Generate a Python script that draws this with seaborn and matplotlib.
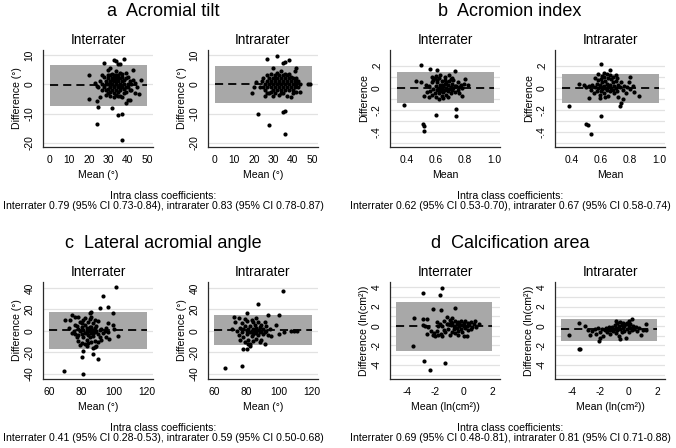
import matplotlib
matplotlib.use("Agg")
import matplotlib.pyplot as plt
import seaborn as sns

sns.set_style("white")
plt.rcParams["font.family"] = ["Liberation Sans", "DejaVu Sans"]
plt.rcParams["text.color"] = "black"
plt.rcParams["axes.labelcolor"] = "black"
plt.rcParams["xtick.color"] = "black"
plt.rcParams["ytick.color"] = "black"

# (mean, difference) pairs
tilt_inter = [(24, -13.7), (37, -19), (35, -10.5), (37, -10), (32, -8.2), (25, -7.8), (20, -5), (24, -5.8),
              (20, 3.2), (28, 7.2), (33, 8.3), (34, 7.8), (38, 8.6), (35, 7), (36, 6.8), (47, 1.3), (46, -3.3),
              (44, -3), (43, 5), (39, -6.3), (40, -5.5), (41, -5.2), (26, -4.4), (27, 3), (30, 5), (31, 5.5),
              (34, 4.5), (36, 4), (39, 4),
              (28, -1), (29, 1), (29, -2), (30, 0), (30, 2), (30, -3), (31, 1), (31, -1), (31, 3), (31, -4),
              (32, 0), (32, 2), (32, -2), (32, 3.5), (33, 1), (33, -1), (33, 3), (33, -3), (34, 0), (34, 2),
              (34, -2), (35, 1), (35, -1), (35, 3), (35, -4), (36, 0), (36, 2), (36, -2), (37, 1), (37, -1),
              (37, 3.5), (38, 0), (38, -3), (39, 2), (39, -1), (40, 0), (40, 2.5), (41, -2), (41, 1), (42, 0),
              (43, 1.5), (27, 0), (27, -2), (26, 1), (25, -1), (28, 2.5), (29, -3.5), (30, -1.5), (31, 0.5),
              (32, 1.5), (33, -0.5), (34, 1), (35, 2), (36, -1), (37, 2.5), (38, 1.5), (39, -2.5), (40, -1),
              (42, -2), (44, 0.5), (45, -1), (23, 0.5), (24, -0.5), (33, -4.5), (34, -3.5), (36, -4), (37, -4.5),
              (29, 0), (31, -2.5), (33, 2), (35, -2.5), (38, -1.5), (30, 3), (34, 3)]
tilt_intra = [(22, -10.2), (28, -13.8), (36, -17), (35, -9.3), (36, -9), (27, 8.5), (32, 9.7), (38, 8.3),
              (35, 7.4), (36, 7.6), (19, -3), (20, -1), (21, 0.8), (48, 0), (49, 0), (42, 5.5), (44, -2.5),
              (30, 5.5), (34, 4.5), (41, 4.5), (26, -4), (39, -4.5),
              (24, 1), (25, -1), (25, 2), (26, 0), (26, -2), (27, 1), (27, -1), (27, 3), (28, 0), (28, 2),
              (28, -3), (29, 1), (29, -1), (29, 3.5), (30, 0), (30, 2), (30, -2), (30, -4), (31, 1), (31, -1),
              (31, 3), (31, -3), (32, 0), (32, 2), (32, -2), (32, 4), (33, 1), (33, -1), (33, 3), (33, -3.5),
              (34, 0), (34, 2), (34, -2), (35, 1), (35, -1), (35, 3), (35, -3), (36, 0), (36, 2), (36, -2),
              (37, 1), (37, -1), (37, 3), (37, -4), (38, 0), (38, 2), (38, -2), (39, 1), (39, -1), (40, 0),
              (40, 2), (40, -2), (41, 1), (41, -1), (42, 0), (42, 2), (43, 1), (43, -1), (44, 0), (23, -1),
              (29, -2.5), (31, 2), (33, 0.5), (34, -3), (36, 3.5), (38, 3.5), (39, 2.5), (40, -3), (42, -2.5),
              (27, -3)]

idx_inter = [(0.38, -0.15), (0.50, 0.21), (0.51, -0.33), (0.515, -0.345), (0.515, -0.39), (0.60, -0.245),
             (0.74, -0.19), (0.74, -0.25), (0.56, 0.17), (0.61, 0.16), (0.73, 0.155), (0.46, 0.065),
             (0.50, 0.05), (0.55, -0.085), (0.82, 0.03), (0.52, -0.07), (0.78, -0.07), (0.80, 0.08),
             (0.57, 0.1), (0.69, 0.12),
             (0.55, 0.02), (0.56, -0.03), (0.57, 0.05), (0.58, -0.01), (0.58, 0.07), (0.59, -0.05), (0.60, 0.02),
             (0.60, -0.08), (0.61, 0.05), (0.61, -0.02), (0.62, 0.0), (0.62, 0.09), (0.62, -0.05), (0.63, 0.03),
             (0.63, -0.03), (0.64, 0.06), (0.64, -0.01), (0.64, -0.07), (0.65, 0.02), (0.65, -0.04), (0.66, 0.04),
             (0.66, 0.1), (0.66, -0.02), (0.67, 0.0), (0.67, -0.06), (0.68, 0.03), (0.68, -0.03), (0.69, 0.06),
             (0.69, -0.01), (0.70, 0.01), (0.70, -0.05), (0.71, 0.04), (0.71, -0.02), (0.72, 0.07), (0.72, 0.0),
             (0.73, -0.04), (0.74, 0.02), (0.75, 0.05), (0.75, -0.02), (0.76, 0.01), (0.77, 0.03), (0.78, 0.0),
             (0.79, 0.04), (0.59, 0.09), (0.60, 0.11), (0.63, 0.12), (0.65, -0.09), (0.68, -0.08), (0.71, 0.09),
             (0.53, 0.03), (0.54, -0.04), (0.57, -0.06), (0.61, 0.07), (0.64, 0.03), (0.67, 0.05), (0.70, 0.08),
             (0.73, 0.02), (0.76, -0.05), (0.62, -0.1), (0.66, 0.07)]
idx_intra = [(0.38, -0.165), (0.50, -0.33), (0.51, -0.34), (0.53, -0.42), (0.60, -0.25), (0.60, 0.22),
             (0.66, 0.16), (0.73, -0.165), (0.74, -0.14), (0.86, -0.075), (0.80, 0.1), (0.45, 0.04),
             (0.48, 0.03), (0.58, 0.13), (0.62, 0.14), (0.64, 0.13), (0.70, 0.12), (0.52, -0.09), (0.83, -0.04),
             (0.82, 0.02),
             (0.50, 0.01), (0.52, 0.02), (0.53, -0.02), (0.54, 0.03), (0.55, -0.05), (0.56, 0.01), (0.57, 0.04),
             (0.57, -0.03), (0.58, 0.0), (0.58, 0.07), (0.59, -0.06), (0.59, 0.03), (0.60, 0.01), (0.60, -0.03),
             (0.60, 0.08), (0.61, 0.05), (0.61, -0.01), (0.62, 0.02), (0.62, -0.05), (0.62, 0.1), (0.63, 0.0),
             (0.63, 0.06), (0.64, -0.02), (0.64, 0.04), (0.65, 0.01), (0.65, -0.07), (0.66, 0.03), (0.66, -0.03),
             (0.67, 0.08), (0.67, 0.0), (0.68, -0.02), (0.68, 0.05), (0.69, 0.02), (0.69, -0.05), (0.70, 0.0),
             (0.70, 0.06), (0.71, -0.03), (0.72, 0.03), (0.72, -0.08), (0.73, 0.01), (0.74, 0.05), (0.75, -0.02),
             (0.76, 0.02), (0.77, -0.05), (0.78, 0.01), (0.79, 0.05), (0.80, -0.01), (0.56, 0.09), (0.61, 0.11),
             (0.65, 0.09), (0.59, -0.09), (0.63, -0.08), (0.68, 0.1), (0.71, 0.09), (0.75, -0.1), (0.66, 0.12)]

lat_inter = [(69, -37), (81, -40), (80, -24), (81, -19), (87, -21), (90, -26), (87, -16), (88, -15), (101, 41),
             (93, 33), (96, 22), (91, 21), (99, 17), (86, 18), (96, 7), (99, 6), (102, -5), (95, -6), (73, 10),
             (74, 15), (70, 10), (72, 3), (76, 13), (78, 13), (85, 17), (97, -7), (100, 2), (83, -14), (89, -14),
             (75, 0), (76, -3), (77, 5), (77, -6), (78, 2), (78, -9), (79, 0), (79, 8), (80, -3), (80, 4),
             (80, -11), (81, 1), (81, -6), (81, 10), (82, -2), (82, 6), (82, -12), (83, 0), (83, 3), (83, -8),
             (84, -4), (84, 8), (84, 2), (85, 0), (85, -6), (85, 11), (86, -2), (86, 4), (86, -10), (87, 1),
             (87, 7), (87, -5), (88, -1), (88, 3), (88, -9), (89, 0), (89, 5), (90, -3), (90, 9), (91, 1),
             (91, -6), (92, 2), (93, -2), (94, 0), (95, 3), (96, -1), (74, -2), (76, 6), (78, -4), (79, -13),
             (82, 12), (84, -11), (86, 13), (88, 10), (90, -10), (92, -8), (80, 7), (83, -2), (85, 4), (87, -2)]
lat_intra = [(67, -34), (77, -33), (102, 37), (87, 25), (100, 15), (80, 17), (93, 15), (72, 13), (78, -17),
             (80, -17), (82, -14), (103, -1), (107, 0), (109, 0), (111, 0), (95, -5), (91, -12), (71, 2), (73, 8),
             (75, 12), (98, 6), (100, -3),
             (74, 0), (75, -4), (76, 3), (77, -1), (77, 7), (78, -6), (78, 2), (79, -10), (79, 5), (80, 0),
             (80, -3), (80, 9), (81, -8), (81, 2), (82, -1), (82, 5), (82, -12), (83, 0), (83, -5), (83, 10),
             (84, 2), (84, -3), (84, -9), (85, 0), (85, 6), (86, -2), (86, 3), (86, -7), (87, 1), (87, 8),
             (87, -4), (88, -1), (88, 4), (88, -10), (89, 0), (89, 6), (90, -3), (90, 2), (91, 8), (91, -1),
             (92, 0), (93, -4), (94, 2), (76, -8), (79, 11), (81, -12), (84, 8), (86, 12), (89, -8), (92, 5)]

calc_inter = [(-3.6, -2.1), (-2.8, -3.6), (-2.35, -4.5), (-1.3, -3.8), (-2.9, 3.4), (-1.7, 3.2), (-1.5, 3.9),
              (-1.6, 1.6), (-2.2, 1.7), (-0.6, 1.85), (-3.5, 0.8), (-2.9, 0.7), (-2.6, 0.7), (1.1, 0.2),
              (-2.9, 0.1), (-2.6, -0.8), (-2.3, -0.5),
              (-2.7, 0.0), (-2.5, -0.1), (-2.1, -0.7), (-2.0, -1.0), (-1.9, -0.5), (-1.9, 0.4), (-1.8, -0.9),
              (-1.7, 0.2), (-1.6, -0.8), (-1.5, 0.0), (-1.5, -1.0), (-1.4, 0.5), (-1.3, -0.6), (-1.2, 0.2),
              (-1.2, 0.9), (-1.1, -0.3), (-1.0, 0.6), (-1.0, -0.9), (-0.9, 0.1), (-0.9, 0.4), (-0.8, -0.6),
              (-0.8, 0.3), (-0.7, 0.0), (-0.7, -0.3), (-0.6, 0.5), (-0.6, -0.7), (-0.5, 0.2), (-0.5, -0.2),
              (-0.4, 0.4), (-0.4, -0.5), (-0.3, 0.0), (-0.3, 0.3), (-0.2, -0.3), (-0.2, 0.5), (-0.1, 0.1),
              (-0.1, -0.6), (0.0, 0.3), (0.0, -1.0), (0.1, -0.2), (0.1, 0.5), (0.2, -1.0), (0.2, 0.0),
              (0.3, 0.3), (0.3, -0.4), (0.4, 0.1), (0.5, -0.3), (0.5, 0.4), (0.6, -0.1), (0.7, 0.2), (0.8, 0.5),
              (0.9, -0.1), (-1.8, 0.0), (-1.4, -0.4), (-1.1, 0.2), (-0.8, 0.8), (-0.4, -0.9), (0.0, 0.0),
              (-2.2, -0.9)]
calc_intra = [(-4.2, -0.95), (-3.5, -2.35), (-3.45, -2.4), (-3.5, 0.35), (-3.1, 0.0), (-2.9, -0.4), (-2.7, -0.9),
              (-2.0, -1.2), (-2.1, -1.5), (-1.8, -1.0), (-2.6, -0.5), (-2.4, -0.3), (-2.3, -0.8), (-2.2, -0.2),
              (-2.0, -0.6), (-1.9, -0.3), (-1.7, -0.4), (-1.6, -0.2), (-1.5, -0.6), (-1.5, -0.3), (-1.4, -0.1),
              (-1.3, -0.4), (-1.3, -0.8), (-1.2, -0.2), (-1.1, -0.5), (-1.0, -0.3), (-1.0, 0.1), (-0.9, -0.7),
              (-0.9, -0.2), (-0.8, 0.3), (-0.8, -0.4), (-0.7, 0.0), (-0.7, -1.0), (-0.6, -0.3), (-0.6, 0.4),
              (-0.5, -0.6), (-0.5, 0.1), (-0.4, -0.2), (-0.4, 0.3), (-0.3, -0.5), (-0.3, 0.0), (-0.2, 0.2),
              (-0.2, -1.2), (-0.1, -0.3), (-0.1, 0.3), (0.0, 0.0), (0.0, -0.6), (0.1, 0.2), (0.1, -0.2),
              (0.2, 0.7), (0.2, -0.4), (0.3, 0.0), (0.4, -0.3), (0.5, -0.1), (0.6, -0.5), (0.7, -0.2),
              (0.9, -0.9), (1.0, -0.4), (1.2, 0.2), (1.2, -0.4), (-0.6, -1.3), (-0.9, 0.5), (-1.2, -0.1),
              (0.0, 0.5)]

# mean difference, lower and upper limits of agreement
loa_tilt_inter = (-0.4, -7.5, 6.7)
loa_tilt_intra = (0.0, -6.3, 6.3)
loa_idx_inter = (0.0, -0.14, 0.145)
loa_idx_intra = (0.0, -0.135, 0.13)
loa_lat_inter = (0.5, -16.5, 17.5)
loa_lat_intra = (0.5, -13.5, 14.5)
loa_calc_inter = (-0.05, -2.6, 2.5)
loa_calc_intra = (-0.35, -1.5, 0.75)

titles = ["a  Acromial tilt", "b  Acromion index", "c  Lateral acromial angle", "d  Calcification area"]
icc_lines = ["Interrater 0.79 (95% CI 0.73-0.84), intrarater 0.83 (95% CI 0.78-0.87)",
             "Interrater 0.62 (95% CI 0.53-0.70), intrarater 0.67 (95% CI 0.58-0.74)",
             "Interrater 0.41 (95% CI 0.28-0.53), intrarater 0.59 (95% CI 0.50-0.68)",
             "Interrater 0.69 (95% CI 0.48-0.81), intrarater 0.81 (95% CI 0.71-0.88)"]

W, H = 676, 448
BAND = "#a8a8a8"
GRID = "#e2e2e2"
SPINE = "#2a2a2a"

# per measure: axis settings
settings = {
    "tilt": dict(band=(0, 50), xlim=(-3.6, 53.1), ylim=(-21.4, 11.7), xticks=[0, 10, 20, 30, 40, 50],
                 xlabels=["0", "10", "20", "30", "40", "50"], yticks=[10, 0, -10, -20],
                 ylabels=["10", "0", "-10", "-20"], grid=[10, 0, -10, -20],
                 xlab="Mean (°)", ylab="Difference (°)"),
    "idx": dict(band=(0.33, 1.0), xlim=(0.283, 1.041), ylim=(-0.536, 0.345), xticks=[0.4, 0.6, 0.8, 1.0],
                xlabels=["0.4", "0.6", "0.8", "1.0"], yticks=[0.2, 0, -0.2, -0.4],
                ylabels=[".2", "0", "-.2", "-.4"], grid=[0.2, 0.1, 0, -0.1, -0.2, -0.3, -0.4, -0.5],
                xlab="Mean", ylab="Difference"),
    "lat": dict(band=(60, 120), xlim=(56.3, 123.7), ylim=(-44.7, 45.6), xticks=[60, 80, 100, 120],
                xlabels=["60", "80", "100", "120"], yticks=[40, 20, 0, -20, -40],
                ylabels=["40", "20", "0", "-20", "-40"], grid=[40, 20, 0, -20, -40],
                xlab="Mean (°)", ylab="Difference (°)"),
    "calc": dict(band=(-4.8, 2), xlim=(-5.2, 2.56), ylim=(-5.45, 4.52), xticks=[-4, -2, 0, 2],
                 xlabels=["-4", "-2", "0", "2"], yticks=[4, 2, 0, -2, -4],
                 ylabels=["4", "2", "0", "-2", "-4"], grid=[4, 3, 2, 1, 0, -1, -2, -3, -4, -5],
                 xlab="Mean (ln(cm²))", ylab="Difference (ln(cm²))"),
}


def draw(fig, left_px, top_px, pts, loa, cfg, sub):
    ax = fig.add_axes([left_px / W, 1 - (top_px + 97) / H, 110 / W, 97 / H])
    for g in cfg["grid"]:
        ax.axhline(g, color=GRID, lw=0.9, zorder=0)
    bias, lo, hi = loa
    ax.fill_between(cfg["band"], lo, hi, color=BAND, lw=0, zorder=1)
    ax.plot(cfg["band"], [bias, bias], color="black", lw=1.3, ls=(0, (4.5, 2.8)), zorder=3)
    sns.scatterplot(x=[p[0] for p in pts], y=[p[1] for p in pts], ax=ax, color="black",
                    s=9, linewidth=0, zorder=4)
    ax.set_xlim(cfg["xlim"])
    ax.set_ylim(cfg["ylim"])
    ax.set_xticks(cfg["xticks"], cfg["xlabels"])
    ax.set_yticks(cfg["yticks"], cfg["ylabels"])
    ax.tick_params(axis="both", direction="out", length=3, width=0.8, color=SPINE, labelsize=7.4, pad=3)
    for lab in ax.get_yticklabels():
        lab.set_rotation(90)
        lab.set_va("center")
    sns.despine(ax=ax)
    for s in ["left", "bottom"]:
        ax.spines[s].set_color(SPINE)
        ax.spines[s].set_linewidth(0.9)
    ax.set_xlabel(cfg["xlab"], fontsize=7.6, labelpad=3)
    ax.set_ylabel(cfg["ylab"], fontsize=7.6, labelpad=2)
    ax.set_title(sub, fontsize=9.8, pad=4)
    return ax


fig = plt.figure(figsize=(W / 100, H / 100), dpi=100)

panels = [
    ("tilt", tilt_inter, tilt_intra, loa_tilt_inter, loa_tilt_intra, 43, 50),
    ("idx", idx_inter, idx_intra, loa_idx_inter, loa_idx_intra, 390, 50),
    ("lat", lat_inter, lat_intra, loa_lat_inter, loa_lat_intra, 43, 282),
    ("calc", calc_inter, calc_intra, loa_calc_inter, loa_calc_intra, 390, 282),
]

for i, (key, inter, intra, l_inter, l_intra, x0, y0) in enumerate(panels):
    cfg = settings[key]
    draw(fig, x0, y0, inter, l_inter, cfg, "Interrater")
    draw(fig, x0 + 165, y0, intra, l_intra, cfg, "Intrarater")
    cx = x0 + 120
    fig.text(cx / W, 1 - (y0 - 38) / H, titles[i], ha="center", va="center", fontsize=13)
    fig.text(cx / W, 1 - (y0 + 146) / H, "Intra class coefficients:", ha="center", va="center", fontsize=7.6)
    fig.text(cx / W, 1 - (y0 + 156) / H, icc_lines[i], ha="center", va="center", fontsize=7.6)

fig.savefig("out.png", dpi=100)
